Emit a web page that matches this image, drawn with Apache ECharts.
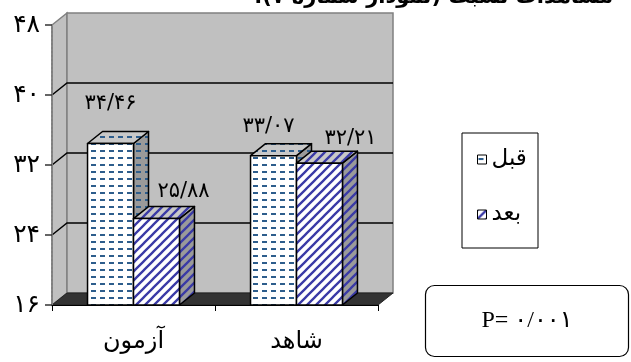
<!DOCTYPE html>
<html>
<head>
<meta charset="utf-8">
<script src="https://cdn.jsdelivr.net/npm/echarts@6/dist/echarts.min.js"></script>
<style>
  html, body { margin: 0; padding: 0; background: #fff; }
  #chart { width: 631px; height: 362px; }
</style>
</head>
<body>
<div id="chart"></div>
<script>
// Chart data
const categories = ['آزمون', 'شاهد'];
const seriesNames = ['قبل', 'بعد'];
const beforeValues = [34.46, 33.07];
const afterValues = [25.88, 32.21];
const yTicks = [16, 24, 32, 40, 48];
const pValueText = 'P= ۰/۰۰۱';
const titleText = 'مشاهدات نسبت (نمودار شماره ۷).';

// Depth of the pseudo-3D walls and bars
const DX = 15, DY = -12;
// Value label nudges (px) per series / category
const labelShift = [
  [[0, -40], [-5, -29]],
  [[27, -27], [31, -25]]
];

const FA_DIGITS = '۰۱۲۳۴۵۶۷۸۹';
function toFa(s) {
  return String(s).replace(/[0-9]/g, d => FA_DIGITS[+d]).replace('.', '/');
}

function makePattern(kind, bg) {
  const c = document.createElement('canvas');
  const g = c.getContext('2d');
  if (kind === 'dash') {
    c.width = 9; c.height = 7;
    g.fillStyle = bg; g.fillRect(0, 0, 9, 7);
    g.fillStyle = '#2d5d8c';
    g.fillRect(1, 3, 5, 2);
  } else {
    const p = 9;
    c.width = p; c.height = p;
    g.fillStyle = bg; g.fillRect(0, 0, p, p);
    g.strokeStyle = '#3a3aa6';
    g.lineWidth = 2.3;
    g.beginPath();
    g.moveTo(-3, p + 3); g.lineTo(p + 3, -3);
    g.moveTo(-6, 6); g.lineTo(6, -6);
    g.moveTo(p - 6, p + 6); g.lineTo(p + 6, p - 6);
    g.stroke();
  }
  return { type: 'pattern', image: c, repeat: 'repeat' };
}

const fills = [
  { front: makePattern('dash', '#ffffff'), top: makePattern('dash', '#c8c8c8'), side: makePattern('dash', '#9a9a9a') },
  { front: makePattern('stripe', '#ffffff'), top: makePattern('stripe', '#c8c8c8'), side: makePattern('stripe', '#9a9a9a') }
];

const seriesValues = [beforeValues, afterValues];

function barRenderer(s) {
  return function (params, api) {
    const cat = api.value(0), val = api.value(1);
    const top = api.coord([cat, val]);
    const base = api.coord([cat, yTicks[0]]);
    const catW = api.size([1, 0])[0];
    const w = catW * 0.282;
    const x0 = s === 0 ? top[0] - w : top[0];
    const x1 = x0 + w;
    const yT = top[1], yB = base[1];
    const edge = { stroke: '#000', lineWidth: 1.5, lineJoin: 'round' };
    const sh = labelShift[s][params.dataIndex];
    return {
      type: 'group',
      children: [
        { type: 'polygon', shape: { points: [[x1, yB], [x1, yT], [x1 + DX, yT + DY], [x1 + DX, yB + DY]] },
          style: Object.assign({ fill: fills[s].side }, edge) },
        { type: 'polygon', shape: { points: [[x0, yT], [x1, yT], [x1 + DX, yT + DY], [x0 + DX, yT + DY]] },
          style: Object.assign({ fill: fills[s].top }, edge) },
        { type: 'rect', shape: { x: x0, y: yT, width: w, height: yB - yT },
          style: Object.assign({ fill: fills[s].front }, edge) },
        { type: 'text', z2: 10,
          style: { text: toFa(val.toFixed(2)), x: (x0 + x1) / 2 + sh[0], y: yT + sh[1],
                   align: 'center', verticalAlign: 'middle', fill: '#000',
                   fontSize: 21, fontFamily: 'DejaVu Sans' } }
      ]
    };
  };
}

function wallRenderer(params, api) {
  const cs = params.coordSys;
  const cx = cs.x, cw = cs.width;
  const yTop = api.coord([0, yTicks[yTicks.length - 1]])[1];
  const yBot = api.coord([0, yTicks[0]])[1];
  const kids = [
    { type: 'polygon', shape: { points: [[cx, yTop], [cx + DX, yTop + DY], [cx + DX, yBot + DY], [cx, yBot]] },
      style: { fill: '#c0c0c0', stroke: '#808080', lineWidth: 1.5 } },
    { type: 'rect', shape: { x: cx + DX, y: yTop + DY, width: cw, height: yBot - yTop },
      style: { fill: '#c0c0c0', stroke: '#808080', lineWidth: 1.5 } },
    { type: 'polygon', shape: { points: [[cx, yBot], [cx + DX, yBot + DY], [cx + cw + DX, yBot + DY], [cx + cw, yBot]] },
      style: { fill: '#333333', stroke: '#222', lineWidth: 1 } }
  ];
  for (let i = 1; i < yTicks.length - 1; i++) {
    const y = api.coord([0, yTicks[i]])[1];
    kids.push({ type: 'polyline', shape: { points: [[cx, y], [cx + DX, y + DY], [cx + cw + DX, y + DY]] },
      style: { stroke: '#000', lineWidth: 1.5, fill: null } });
  }
  return { type: 'group', children: kids };
}

const chart = echarts.init(document.getElementById('chart'), null, { renderer: 'canvas' });

chart.setOption({
  animation: false,
  backgroundColor: '#ffffff',
  textStyle: { fontFamily: 'DejaVu Sans' },
  grid: { left: 52, right: 253, top: 25, bottom: 57 },
  xAxis: {
    type: 'category',
    data: categories,
    z: 6,
    axisLine: { show: true, lineStyle: { color: '#000', width: 1 } },
    axisTick: { show: true, length: 6, lineStyle: { color: '#000' } },
    axisLabel: { fontSize: 24, color: '#000', margin: 25, fontFamily: 'DejaVu Sans' },
    splitLine: { show: false }
  },
  yAxis: {
    type: 'value',
    min: yTicks[0],
    max: yTicks[yTicks.length - 1],
    interval: 8,
    z: 6,
    axisLine: { show: true, lineStyle: { color: '#808080', width: 2, type: 'dotted' } },
    axisTick: { show: true, length: 7, lineStyle: { color: '#333', width: 1.5 } },
    axisLabel: { fontSize: 25, color: '#000', margin: 12, fontFamily: 'DejaVu Sans',
                 formatter: v => toFa(v) },
    splitLine: { show: false }
  },
  legend: {
    data: seriesNames,
    orient: 'vertical',
    left: 472,
    top: 143,
    itemWidth: 9,
    itemHeight: 9,
    itemGap: 32,
    itemTextGap: 19,
    icon: 'rect',
    itemStyle: { borderColor: '#000', borderWidth: 1 },
    textStyle: { fontSize: 23, color: '#000', fontFamily: 'DejaVu Sans' }
  },
  graphic: [
    { type: 'rect', z: 0, shape: { x: 462, y: 133, width: 76, height: 115 },
      style: { fill: '#fff', stroke: '#000', lineWidth: 1 } },
    { type: 'rect', shape: { x: 425.5, y: 285.5, width: 203, height: 71, r: 9 },
      style: { fill: '#fff', stroke: '#000', lineWidth: 1.2 } },
    { type: 'text', style: { text: pValueText, x: 527, y: 321, align: 'center', verticalAlign: 'middle',
      fontSize: 24, fontFamily: 'Liberation Serif, DejaVu Sans', fill: '#000' } },
    { type: 'text', style: { text: '\u202B' + titleText + '\u202C', x: 613, y: -2, align: 'right', verticalAlign: 'middle',
      fontSize: 21, fontWeight: 'bold', fontFamily: 'DejaVu Sans', fill: '#000' } }
  ],
  series: [
    { type: 'custom', name: 'walls', z: 0, silent: true, renderItem: wallRenderer,
      data: [[0, yTicks[0]]], encode: { x: 0, y: 1 } },
    ...seriesNames.map((name, s) => ({
      type: 'custom',
      name: name,
      z: 2 + s,
      itemStyle: { color: fills[s].front },
      renderItem: barRenderer(s),
      encode: { x: 0, y: 1 },
      data: seriesValues[s].map((v, i) => [i, v])
    }))
  ]
});
</script>
</body>
</html>
